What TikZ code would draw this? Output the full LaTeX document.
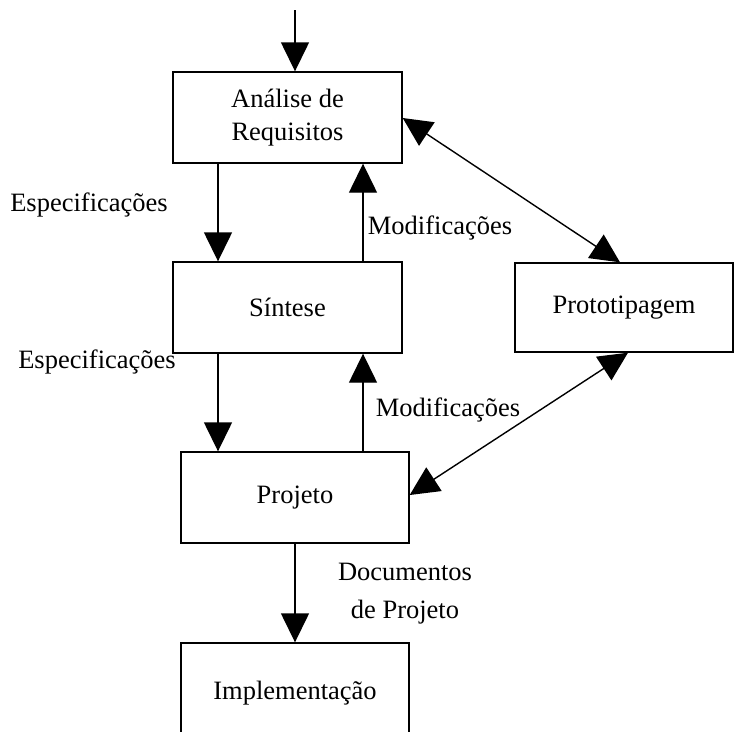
\documentclass[tikz,border=0pt]{standalone}
\usepackage{fontspec}
\setmainfont{Liberation Serif}
\usetikzlibrary{arrows.meta}
\begin{document}
\begin{tikzpicture}[x=1pt,y=-1pt,
  every node/.style={font=\fontsize{26.5}{33}\selectfont},
  blockbox/.style={draw, line width=1.4pt, inner sep=0pt, align=center},
  flow/.style={line width=1.4pt, -{Triangle[length=29pt,width=28pt]}},
  biflow/.style={line width=1.4pt, {Triangle[length=29pt,width=28pt]}-{Triangle[length=29pt,width=28pt]}},
  lbl/.style={inner sep=0pt, align=center}]
\useasboundingbox (0,0) rectangle (735,731);

% process blocks
\node[blockbox, minimum width=229pt, minimum height=91pt] (ana) at (287.5,117.5) {Análise de\\Requisitos};
\node[blockbox, minimum width=229pt, minimum height=91pt] (sin) at (287.5,307.5) {Síntese};
\node[blockbox, minimum width=218pt, minimum height=89pt] (pro) at (624,307.5) {Prototipagem};
\node[blockbox, minimum width=228pt, minimum height=91pt] (prj) at (295,497.5) {Projeto};
\node[blockbox, minimum width=228pt, minimum height=100pt] (imp) at (295,693) {Implementação};

% entry point
\coordinate (start) at (295,10);
\draw[flow] (start) -- (start |- ana.north);

% main flow and feedback
\draw[flow] (ana.south -| 218,0) -- (sin.north -| 218,0);
\draw[flow] (sin.north -| 363,0) -- (ana.south -| 363,0);
\draw[flow] (sin.south -| 218,0) -- (prj.north -| 218,0);
\draw[flow] (prj.north -| 363,0) -- (sin.south -| 363,0);
\draw[flow] (prj.south -| 295,0) -- (imp.north -| 295,0);

% links with prototyping
\draw[biflow] (ana.east |- 0,118) -- (pro.north -| 620,0);
\draw[biflow] (prj.east |- 0,495) -- (pro.south -| 628,0);

% labels
\node[lbl] (esp1) at (89,205) {Especificações};
\node[lbl] (esp2) at (97,362) {Especificações};
\node[lbl] (mod1) at (440,228) {Modificações};
\node[lbl] (mod2) at (448,410) {Modificações};
\node[lbl, font=\fontsize{26.5}{38}\selectfont] (doc) at (405,594) {Documentos\\de Projeto};
\end{tikzpicture}
\end{document}
